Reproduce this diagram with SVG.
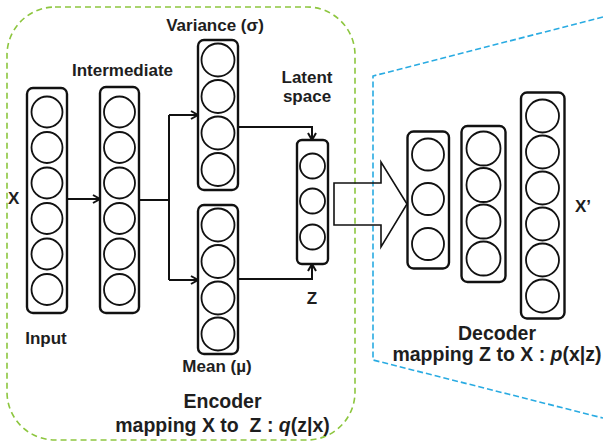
<svg xmlns="http://www.w3.org/2000/svg" width="603" height="441" viewBox="0 0 603 441">
<style>
.col{fill:#fff;stroke:#111;stroke-width:2.4}
.nd{fill:#fff;stroke:#111;stroke-width:1.8}
.lbl{font-family:"Liberation Sans",Arial,sans-serif;font-weight:bold;fill:#1e1e1e;font-size:17px}
.big{font-size:19.5px}
.mid{text-anchor:middle}
.cn{fill:none;stroke:#111;stroke-width:2}
</style>
<defs>
<marker id="ah" markerUnits="userSpaceOnUse" markerWidth="10" markerHeight="10" refX="7" refY="4" orient="auto" overflow="visible">
<path d="M0,0 L7,4 L0,8" fill="none" stroke="#111" stroke-width="2"/>
</marker>
</defs>
<rect id="encoder-frame" x="7" y="7" width="348" height="433" rx="48" fill="none" stroke="#8DC63F" stroke-width="1.6" stroke-dasharray="6 4"/>
<polyline id="decoder-frame" points="603,17 373,76 373,360 603,418" fill="none" stroke="#29ABE2" stroke-width="1.6" stroke-dasharray="6 3"/>
<g id="connectors">
<path class="cn" d="M67,199 H100" marker-end="url(#ah)"/>
<path class="cn" d="M139,200 H169"/>
<path class="cn" d="M169,115 V280"/>
<path class="cn" d="M169,115 H198" marker-end="url(#ah)"/>
<path class="cn" d="M169,280 H198" marker-end="url(#ah)"/>
<path class="cn" d="M238,127 H312 V140" marker-end="url(#ah)"/>
<path class="cn" d="M238,279 H312 V264" marker-end="url(#ah)"/>
<polygon points="334,183 381,183 381,162 407,204 381,247 381,225 334,225" fill="none" stroke="#111" stroke-width="1.6"/>
</g>
<g id="input">
<rect class="col" x="27" y="88" width="40" height="225" rx="6"/>
<circle class="nd" cx="47" cy="112" r="15.5"/>
<circle class="nd" cx="47" cy="147.5" r="15.5"/>
<circle class="nd" cx="47" cy="183" r="15.5"/>
<circle class="nd" cx="47" cy="218.5" r="15.5"/>
<circle class="nd" cx="47" cy="254" r="15.5"/>
<circle class="nd" cx="47" cy="289.5" r="15.5"/>
<text class="lbl mid" x="46" y="344">Input</text>
<text class="lbl" x="8" y="204">X</text>
</g>
<g id="intermediate">
<rect class="col" x="100" y="87" width="39" height="226" rx="6"/>
<circle class="nd" cx="119.5" cy="112" r="15.5"/>
<circle class="nd" cx="119.5" cy="147.5" r="15.5"/>
<circle class="nd" cx="119.5" cy="183" r="15.5"/>
<circle class="nd" cx="119.5" cy="218.5" r="15.5"/>
<circle class="nd" cx="119.5" cy="254" r="15.5"/>
<circle class="nd" cx="119.5" cy="289.5" r="15.5"/>
<text class="lbl mid" x="122.5" y="76">Intermediate</text>
</g>
<g id="variance">
<rect class="col" x="198" y="40" width="40" height="150" rx="6"/>
<circle class="nd" cx="218" cy="60" r="16.5"/>
<circle class="nd" cx="218" cy="96.5" r="16.5"/>
<circle class="nd" cx="218" cy="133" r="16.5"/>
<circle class="nd" cx="218" cy="169.5" r="16.5"/>
<text class="lbl mid" x="215" y="31">Variance (σ)</text>
</g>
<g id="mean">
<rect class="col" x="198" y="205" width="40" height="149" rx="6"/>
<circle class="nd" cx="218" cy="225" r="16.5"/>
<circle class="nd" cx="218" cy="261.5" r="16.5"/>
<circle class="nd" cx="218" cy="298" r="16.5"/>
<circle class="nd" cx="218" cy="334" r="16.5"/>
<text class="lbl mid" x="217" y="372">Mean (µ)</text>
</g>
<g id="latent">
<rect class="col" x="297" y="140" width="31" height="124" rx="5"/>
<circle class="nd" cx="312.5" cy="166" r="12.5"/>
<circle class="nd" cx="312.5" cy="201" r="12.5"/>
<circle class="nd" cx="312.5" cy="237" r="12.5"/>
<text class="lbl mid" x="307" y="83">Latent</text>
<text class="lbl mid" x="307" y="102">space</text>
<text class="lbl mid" x="312" y="304">Z</text>
</g>
<g id="decoder1">
<rect class="col" x="407.5" y="131.5" width="41.5" height="137" rx="6"/>
<circle class="nd" cx="428" cy="154.5" r="16"/>
<circle class="nd" cx="428" cy="199" r="16"/>
<circle class="nd" cx="428" cy="244" r="16"/>
</g>
<g id="decoder2">
<rect class="col" x="461.5" y="126" width="44" height="156" rx="6"/>
<circle class="nd" cx="483.5" cy="148.5" r="17"/>
<circle class="nd" cx="483.5" cy="185" r="17"/>
<circle class="nd" cx="483.5" cy="221.5" r="17"/>
<circle class="nd" cx="483.5" cy="258.5" r="17"/>
</g>
<g id="output">
<rect class="col" x="521" y="92.5" width="43.5" height="226" rx="6"/>
<circle class="nd" cx="542.5" cy="116" r="16.5"/>
<circle class="nd" cx="542.5" cy="152" r="16.5"/>
<circle class="nd" cx="542.5" cy="188" r="16.5"/>
<circle class="nd" cx="542.5" cy="224" r="16.5"/>
<circle class="nd" cx="542.5" cy="260" r="16.5"/>
<circle class="nd" cx="542.5" cy="296" r="16.5"/>
<text class="lbl" x="575" y="212">X’</text>
</g>
<g id="encoder-label">
<text class="lbl big mid" x="222.5" y="408">Encoder</text>
<text class="lbl big mid" x="222.5" y="432" xml:space="preserve">mapping X to  Z : <tspan font-style="italic">q</tspan>(z|x)</text>
</g>
<g id="decoder-label">
<text class="lbl big mid" x="497" y="340">Decoder</text>
<text class="lbl big mid" x="497" y="361">mapping Z to X : <tspan font-style="italic">p</tspan>(x|z)</text>
</g>
</svg>
